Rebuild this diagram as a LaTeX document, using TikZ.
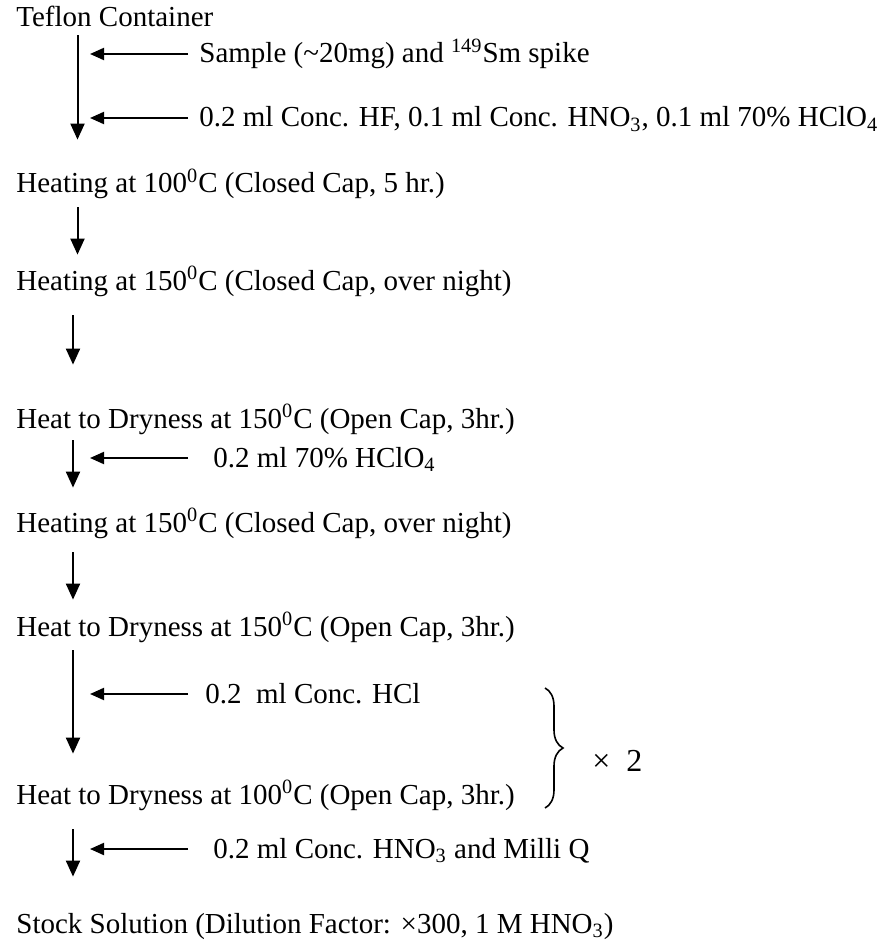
\documentclass[tikz,border=0pt]{standalone}
\usepackage{fontspec}
\setmainfont{Liberation Serif}
\usepackage{tikz}
\usetikzlibrary{arrows.meta, positioning, decorations.pathreplacing}

\begin{document}
\begin{tikzpicture}[
  stepnode/.style={anchor=base west, inner sep=0pt, text height=10pt, text depth=3.5pt, font=\fontsize{14.5}{17}\selectfont},
  addnode/.style={anchor=base west, inner sep=0pt, text height=12pt, text depth=3pt, font=\fontsize{14.5}{17}\selectfont},
  flow/.style={-{Triangle[length=8pt, width=7pt]}, line width=1pt},
  feed/.style={-{Triangle[length=7pt, width=6pt]}, line width=1pt},
  brace/.style={decorate, decoration={brace, amplitude=9pt}, line width=0.8pt}
]
\useasboundingbox (0,0) rectangle (444pt,-470.5pt);

% columns of the arrows
\coordinate (topcol) at (38.75pt,0);
\coordinate (flowcol) at (36.5pt,0);
\coordinate (tipcol) at (45pt,0);
\coordinate (tailcol) at (94pt,0);

% steps
\node[stepnode] (teflon) at (8pt,-13.5pt) {Teflon Container};
\node[stepnode, below=83pt of teflon.base west, anchor=base west] (heatA) {Heating at 100\textsuperscript{0}C (Closed Cap, 5 hr.)};
\node[stepnode, below=48.5pt of heatA.base west, anchor=base west] (heatB) {Heating at 150\textsuperscript{0}C (Closed Cap, over night)};
\node[stepnode, below=69pt of heatB.base west, anchor=base west] (dryA) {Heat to Dryness at 150\textsuperscript{0}C (Open Cap, 3hr.)};
\node[stepnode, below=52pt of dryA.base west, anchor=base west] (heatC) {Heating at 150\textsuperscript{0}C (Closed Cap, over night)};
\node[stepnode, below=52pt of heatC.base west, anchor=base west] (dryB) {Heat to Dryness at 150\textsuperscript{0}C (Open Cap, 3hr.)};
\node[stepnode, below=84pt of dryB.base west, anchor=base west] (dryC) {Heat to Dryness at 100\textsuperscript{0}C (Open Cap, 3hr.)};
\node[stepnode, below=64.5pt of dryC.base west, anchor=base west] (stock) {Stock Solution (Dilution Factor: ×300, 1 M HNO\textsubscript{3})};

% additions
\node[addnode, below right=18pt and 91.5pt of teflon.base west, anchor=base west] (sample) {Sample (\textasciitilde20mg) and \textsuperscript{149}Sm spike};
\node[addnode, below right=50pt and 91.5pt of teflon.base west, anchor=base west] (acid) {0.2 ml Conc. HF, 0.1 ml Conc. HNO\textsubscript{3}, 0.1 ml 70\% HClO\textsubscript{4}};
\node[addnode, below right=19.5pt and 98.5pt of dryA.base west, anchor=base west] (perc) {0.2 ml 70\% HClO\textsubscript{4}};
\node[addnode, below right=33.5pt and 94.5pt of dryB.base west, anchor=base west] (hcl) {0.2\ \ ml Conc. HCl};
\node[addnode, below right=27pt and 98.5pt of dryC.base west, anchor=base west] (nitric) {0.2 ml Conc. HNO\textsubscript{3} and Milli Q};

\node[anchor=base west, inner sep=0pt, font=\fontsize{16}{19}\selectfont] (twice) at (296pt,-385.5pt) {×\enspace 2};

% main flow
\draw[flow, shorten <=0.5pt, shorten >=16.5pt] (teflon.south -| topcol) -- (heatA.north -| topcol);
\draw[flow, shorten <=3.5pt, shorten >=7.5pt] (heatA.south -| topcol) -- (heatB.north -| topcol);
\draw[flow, shorten <=9pt, shorten >=21.5pt] (heatB.south -| flowcol) -- (dryA.north -| flowcol);
\draw[flow, shorten <=2.5pt, shorten >=12pt] (dryA.south -| flowcol) -- (heatC.north -| flowcol);
\draw[flow, shorten <=6.5pt, shorten >=8pt] (heatC.south -| flowcol) -- (dryB.north -| flowcol);
\draw[flow, shorten <=3.5pt, shorten >=15pt] (dryB.south -| flowcol) -- (dryC.north -| flowcol);
\draw[flow, shorten <=9pt, shorten >=18pt] (dryC.south -| flowcol) -- (stock.north -| flowcol);

% reagents added
\draw[feed] (sample.west -| tailcol) -- (sample.west -| tipcol);
\draw[feed] (acid.west -| tailcol) -- (acid.west -| tipcol);
\draw[feed] (perc.west -| tailcol) -- (perc.west -| tipcol);
\draw[feed] (hcl.west -| tailcol) -- (hcl.west -| tipcol);
\draw[feed] (nitric.west -| tailcol) -- (nitric.west -| tipcol);

% repeat twice
\draw[brace] (272.5pt,-344pt) -- (272.5pt,-404pt);

\end{tikzpicture}
\end{document}
